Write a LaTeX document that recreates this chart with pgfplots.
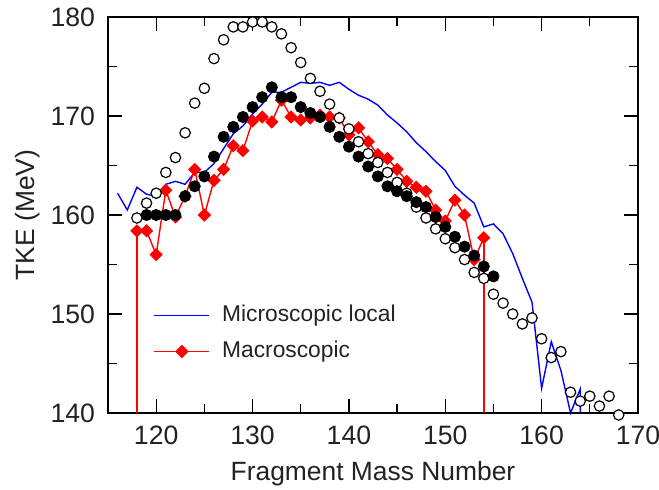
\documentclass[border=0pt]{standalone}
\usepackage{fontspec}
\setmainfont{Liberation Sans}
\usepackage{pgfplots}
\pgfplotsset{compat=1.18}

\definecolor{txt}{HTML}{222222}

\begin{document}
\begin{tikzpicture}
% frame of the whole picture: 1px of the reference = 0.5pt
\path[use as bounding box] (-54pt,-38pt) rectangle (275.5pt,206.5pt);
\begin{axis}[
    at={(0pt,0pt)}, anchor=south west,
    scale only axis,
    width=265pt, height=198pt,
    xmin=115, xmax=170, ymin=140, ymax=180,
    xtick={120,130,...,170}, ytick={140,150,...,180},
    minor tick num=1,
    major tick length=7pt, minor tick length=4.5pt,
    tick align=inside,
    clip=false,
    axis line style={line width=0.75pt},
    every tick/.style={line width=0.6pt, black},
    /pgf/number format/assume math mode=true,
    tick label style={font=\fontsize{13.3}{15}\selectfont, text=txt},
    yticklabel style={xshift=-3pt},
    xticklabel style={yshift=-3pt},
    label style={font=\fontsize{13.2}{15}\selectfont, text=txt},
    xlabel={Fragment Mass Number},
    ylabel={TKE (MeV)},
    xlabel style={at={(axis description cs:0.5,-0.152)}, anchor=center},
    ylabel style={at={(axis description cs:-0.151,0.5)}, anchor=center},
    legend cell align=left,
    legend image code/.code={%
        \draw[mark repeat=2,mark phase=2,#1] plot coordinates {(0pt,0pt)(13.75pt,0pt)(27.5pt,0pt)};},
    legend style={at={(axis cs:119.7,151.0)}, anchor=north west,
        draw=none, fill=none, inner sep=0pt,
        font=\fontsize{11.4}{13}\selectfont, text=txt,
        nodes={inner sep=0pt, text height=8.5pt, text depth=2.5pt},
        column sep=6pt, row sep=7pt},
]

% Microscopic local (runs to the bottom edge at 163 and 164)
\addplot[blue, line width=0.7pt] coordinates {
(116,162.2) (117,160.5) (118,162.8) (119,162.1) (120,161.9) (121,163.1)
(122,163.4) (123,163.1) (124,164.3) (125,164.3) (126,165.2) (127,166.7)
(128,168.2) (129,169.0) (130,170.2) (131,171.2) (132,172.4) (133,172.4)
(134,172.9) (135,173.4) (136,173.3) (137,173.4) (138,173.1) (139,173.4)
(140,172.7) (141,172.1) (142,171.7) (143,171.1) (144,170.1) (145,169.3)
(146,168.4) (147,167.3) (148,166.4) (149,165.4) (150,164.5) (151,162.9)
(152,162.0) (153,161.2) (154,158.8) (155,159.1) (156,158.1) (157,156.1)
(158,153.6) (159,151.2) (160,142.5) (161,147.2) (162,144.3) (163,140.0)
(164,142.4) (164.02,140.0)
};
\addlegendentry{Microscopic local}

% Macroscopic: the two drops to the bottom edge
\addplot[red, line width=0.7pt, forget plot] coordinates {(118,140) (118,158.4)};
\addplot[red, line width=0.7pt, forget plot] coordinates {(154,157.7) (154,140)};

\addplot[red, line width=0.7pt, mark=square*, mark size=2pt,
    mark options={rotate=45, solid, fill=red}] coordinates {
(118,158.4) (119,158.4) (120,156.0) (121,162.5) (122,159.8)
(123,161.9) (124,164.6) (125,160.0) (126,163.5) (127,164.6) (128,167.0)
(129,166.5) (130,169.5) (131,169.9) (132,169.4) (133,171.6) (134,169.9)
(135,169.6) (136,169.8) (137,170.1) (138,169.9) (139,169.8) (140,168.1)
(141,168.8) (142,167.4) (143,166.1) (144,165.7) (145,164.6) (146,163.4)
(147,162.8) (148,162.4) (149,160.5) (150,159.4) (151,161.5) (152,160.0)
(153,155.5) (154,157.7)
};
\addlegendentry{Macroscopic}

% open circles
\addplot[only marks, mark=*, mark size=2.6pt,
    mark options={draw=black, fill=white, line width=0.6pt}, forget plot] coordinates {
(118,159.7) (119,161.2) (120,162.2) (121,164.3) (122,165.8) (123,168.3)
(124,171.3) (125,172.8) (126,175.8) (127,177.7) (128,179.0) (129,179.0)
(130,179.5) (131,179.5) (132,179.0) (133,178.3) (134,176.9) (135,175.4)
(136,173.8) (137,172.5) (138,171.2) (139,169.8) (140,168.7) (141,167.4)
(142,166.2) (143,165.3) (144,164.3) (145,163.3) (146,162.2) (147,160.8)
(148,159.7) (149,158.6) (150,157.6) (151,156.7) (152,155.5) (153,154.2)
(154,153.6) (155,152.0) (156,151.1) (157,150.0) (158,149.0) (159,149.6)
(160,147.5) (161,145.6) (162,146.2) (163,142.1) (164,141.2) (165,141.7)
(166,140.7) (167,141.7) (168,139.8)
};

% filled circles
\addplot[only marks, mark=*, mark size=2.8pt, black, forget plot] coordinates {
(119,160.0) (120,160.0) (121,160.0) (122,160.0) (123,161.9) (124,162.9)
(125,163.9) (126,165.9) (127,167.9) (128,168.9) (129,169.9) (130,170.9)
(131,171.9) (132,172.9) (133,171.9) (134,171.9) (135,170.9) (136,170.3)
(137,169.9) (138,168.9) (139,167.9) (140,166.9) (141,165.9) (142,164.9)
(143,163.9) (144,162.9) (145,162.4) (146,161.9) (147,161.3) (148,160.8)
(149,159.8) (150,158.8) (151,157.8) (152,156.8) (153,155.9) (154,154.8)
(155,153.8)
};

\end{axis}
\end{tikzpicture}
\end{document}
